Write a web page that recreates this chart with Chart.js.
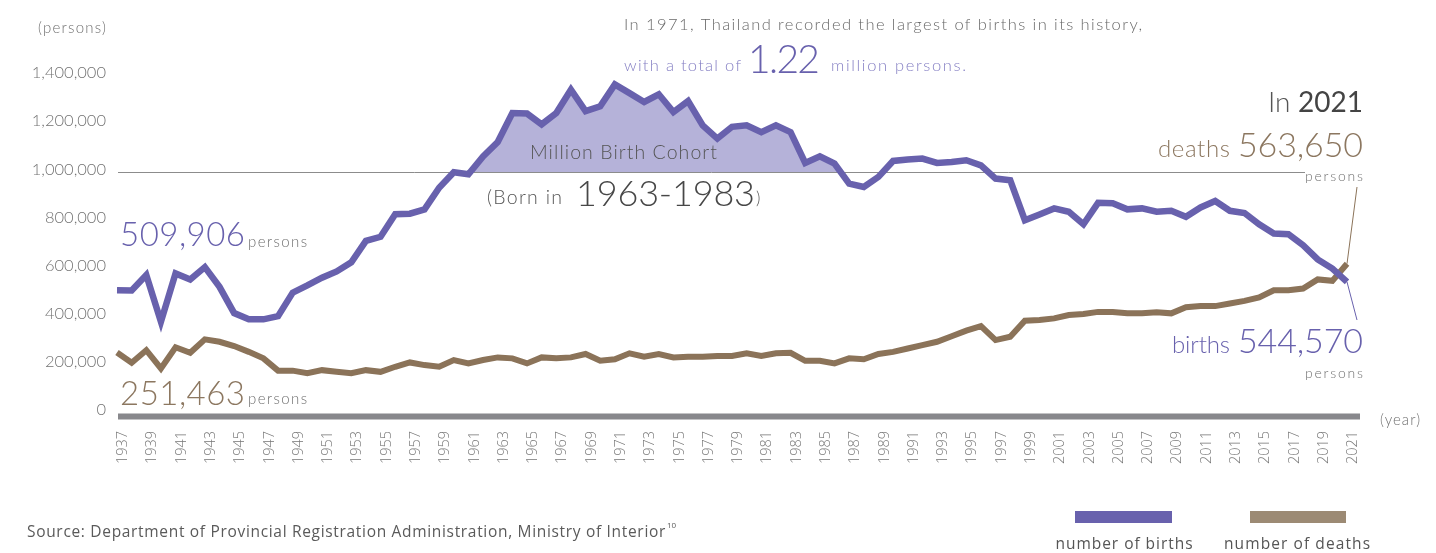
<!DOCTYPE html>
<html><head><meta charset="utf-8">
<style>
html,body{margin:0;padding:0;background:#ffffff;}
#wrap{position:relative;width:1436px;height:553px;}
canvas{display:block;}
</style>
<script src="https://cdn.jsdelivr.net/npm/chart.js@4/dist/chart.umd.min.js"></script>
</head><body>
<div id="wrap"><canvas id="c" width="1436" height="553"></canvas></div>
<script>
// ---- data ----
const years = [1937,1938,1939,1940,1941,1942,1943,1944,1945,1946,1947,1948,1949,1950,1951,1952,1953,1954,1955,1956,
1957,1958,1959,1960,1961,1962,1963,1964,1965,1966,1967,1968,1969,1970,1971,1972,1973,1974,1975,1976,
1977,1978,1979,1980,1981,1982,1983,1984,1985,1986,1987,1988,1989,1990,1991,1992,1993,1994,1995,1996,
1997,1998,1999,2000,2001,2002,2003,2004,2005,2006,2007,2008,2009,2010,2011,2012,2013,2014,2015,2016,
2017,2018,2019,2020,2021];

const births = [509906,509000,573000,379000,580000,555000,606000,524000,415000,389000,389000,402000,500000,530000,562000,588000,626000,715000,732000,826000,
828000,846000,936000,1000000,992000,1066000,1126000,1246000,1244000,1199000,1246000,1343000,1254000,1274000,1365000,1329000,1292000,1324000,1250000,1296000,
1195000,1140000,1189000,1195000,1167000,1195000,1167000,1039000,1066000,1036000,953000,939000,981000,1047000,1053000,1057000,1039000,1043000,1050000,1029000,
974000,967000,801000,825000,850000,836000,784000,873000,871000,846000,850000,836000,840000,815000,854000,881000,840000,831000,784000,746000,
743000,697000,638000,600000,544570];

const deaths = [251463,209000,261000,185000,273000,250000,306000,296000,278000,254000,227000,176000,176000,165000,178000,171000,165000,178000,171000,192000,
210000,199000,192000,220000,206000,220000,231000,227000,206000,231000,227000,231000,245000,217000,223000,248000,234000,245000,231000,234000,
234000,237000,237000,248000,237000,248000,250000,217000,217000,206000,227000,223000,245000,254000,268000,282000,296000,319000,342000,361000,
303000,317000,383000,386000,393000,407000,411000,420000,420000,414000,414000,418000,414000,439000,444000,444000,455000,466000,480000,510000,
510000,517000,555000,549000,620000];

const yTicks = [0,200000,400000,600000,800000,1000000,1200000,1400000];
const MILLION = 1000000;
const COHORT_START = 1959, COHORT_END = 1987;
const cohortFill = births.map((v,i)=> (years[i]>=COHORT_START && years[i]<=COHORT_END) ? v : null);

const PURPLE = '#6861ad', PURPLE_LIGHT = '#8680c4', FILL = '#b5b2d9';
const BROWN = '#8b7359', BROWN_TXT = '#8c7760', BROWN_LEG = '#9c8a74';
const GRAY = '#707070', AXIS = '#88888c';

function t(ctx, s, x, y, font, color, align, base){
  ctx.font = font; ctx.letterSpacing = '0px'; ctx.fillStyle = color; ctx.textAlign = align||'left'; ctx.textBaseline = base||'alphabetic';
  ctx.fillText(s, x, y); return ctx.measureText(s).width;
}
function w(ctx, s, font){ ctx.font = font; ctx.letterSpacing = '0px'; return ctx.measureText(s).width; }
// draw text stretched to a target width with letter spacing
function fit(ctx, s, x, y, font, color, target, align, base){
  ctx.save();
  ctx.font = font; ctx.letterSpacing = '0px';
  const m = ctx.measureText(s).width;
  const n = Math.max(1, s.length - 1);
  const ls = (target - m) / n;
  ctx.letterSpacing = ls.toFixed(2) + 'px';
  ctx.fillStyle = color; ctx.textBaseline = base||'alphabetic'; ctx.textAlign = 'left';
  let x0 = x;
  if (align === 'right') x0 = x - target;
  else if (align === 'center') x0 = x - target/2;
  ctx.fillText(s, x0, y);
  ctx.restore();
  return target;
}

const deco = {
  id:'deco',
  afterDatasetDraw(chart, args){
    if (args.index !== 0) return;
    const {ctx, chartArea:a, scales:{y}} = chart;
    const yy = Math.round(y.getPixelForValue(MILLION)) + 0.5;
    ctx.save();
    ctx.strokeStyle = '#8c8c8c'; ctx.lineWidth = 1;
    ctx.beginPath(); ctx.moveTo(a.left+1, yy); ctx.lineTo(a.right-42, yy); ctx.stroke();
    ctx.restore();
  },
  beforeDatasetsDraw(chart){
    const {ctx, chartArea:a, scales:{y}} = chart;
    const y0 = y.getPixelForValue(0);
    ctx.save(); ctx.fillStyle = AXIS;
    ctx.fillRect(a.left+1, y0+0.5, a.right - a.left + 12, 6);
    ctx.restore();
  },
  afterDraw(chart){
    const {ctx, scales:{x,y}} = chart;
    ctx.save();
    const last = years.length-1;
    const px = x.getPixelForValue(last);
    ctx.lineWidth = 1;
    ctx.strokeStyle = BROWN; ctx.beginPath(); ctx.moveTo(px, y.getPixelForValue(deaths[last])); ctx.lineTo(px+10, 187); ctx.stroke();
    ctx.strokeStyle = PURPLE; ctx.beginPath(); ctx.moveTo(px, y.getPixelForValue(births[last])); ctx.lineTo(px+10, 320); ctx.stroke();

    fit(ctx, '(persons)', 38, 28, '300 15px Lato', GRAY, 68, 'left', 'middle');
    fit(ctx, '(year)', 1380, 420, '300 15px Lato', GRAY, 40, 'left', 'middle');

    // top annotation
    fit(ctx, 'In 1971, Thailand recorded the largest of births in its history,', 624, 25, '300 16.5px Lato', '#6a6a6a', 518, 'left', 'middle');
    fit(ctx, 'with a total of', 624, 71, '300 16.5px Lato', PURPLE_LIGHT, 117);
    fit(ctx, '1.22', 748, 73, '300 39px Lato', PURPLE, 72);
    fit(ctx, 'million persons.', 831, 71, '300 16.5px Lato', PURPLE_LIGHT, 135);

    // cohort
    fit(ctx, 'Million Birth Cohort', 530, 153, '300 19.5px Lato', '#555555', 187, 'left', 'middle');
    fit(ctx, '(Born in', 487, 204, '300 19.5px Lato', '#555555', 75);
    fit(ctx, '1963-1983', 576, 206, '300 36px Lato', '#474747', 179);
    t(ctx, ')', 756, 204, '300 17px Lato', '#555555');

    // left numbers
    fit(ctx, '509,906', 120, 246, '300 33px Lato', PURPLE, 125);
    fit(ctx, 'persons', 248, 247, '300 15px Lato', GRAY, 59);
    fit(ctx, '251,463', 120, 405, '300 33px Lato', BROWN_TXT, 125);
    fit(ctx, 'persons', 248, 404, '300 15px Lato', GRAY, 59);

    // right annotations
    const R = 1363;
    let w2 = w(ctx, '2021', '400 28px Lato');
    t(ctx, '2021', R, 112, '400 28px Lato', '#444444', 'right');
    t(ctx, 'In ', R - w2, 112, '300 28px Lato', '#555555', 'right');
    fit(ctx, '563,650', R, 157, '300 34px Lato', BROWN_TXT, 125, 'right');
    fit(ctx, 'deaths', 1158, 157, '300 24px Lato', BROWN_TXT, 72);
    fit(ctx, 'persons', R, 176, '300 14px Lato', GRAY, 58, 'right', 'middle');
    fit(ctx, '544,570', R, 353, '300 34px Lato', PURPLE, 125, 'right');
    fit(ctx, 'births', 1172, 353, '300 24px Lato', PURPLE, 58);
    fit(ctx, 'persons', R, 373, '300 14px Lato', GRAY, 58, 'right', 'middle');

    // source
    fit(ctx, 'Source: Department of Provincial Registration Administration, Ministry of Interior', 27, 533, '15.5px "Open Sans"', '#5a5a5a', 638, 'left', 'middle');
    t(ctx, '10', 667, 526, '8px "Open Sans"', '#5a5a5a', 'left', 'middle');

    // legend
    ctx.fillStyle = PURPLE; ctx.fillRect(1075, 511, 97, 12);
    ctx.fillStyle = BROWN_LEG; ctx.fillRect(1250, 511, 96, 12);
    fit(ctx, 'number of births', 1124, 545, '15.5px "Open Sans"', '#555555', 137, 'center', 'middle');
    fit(ctx, 'number of deaths', 1297, 545, '15.5px "Open Sans"', '#555555', 146, 'center', 'middle');
    ctx.restore();
  }
};

new Chart(document.getElementById('c'), {
  type: 'line',
  data: {
    labels: years,
    datasets: [
      { label:'cohort', data: cohortFill, borderWidth:0, borderColor:'rgba(0,0,0,0)', pointRadius:0, spanGaps:false,
        fill:{ target:{value:MILLION}, above:FILL, below:'rgba(0,0,0,0)' }, order:2 },
      { label:'number of deaths', data: deaths, borderColor: BROWN, borderWidth:6, pointRadius:0, fill:false, tension:0, order:1 },
      { label:'number of births', data: births, borderColor: PURPLE, borderWidth:6.5, pointRadius:0, fill:false, tension:0, order:0 }
    ]
  },
  options: {
    responsive:false, animation:false,
    layout:{ padding:{ left:0, right:89, top:76, bottom:0 } },
    plugins:{ legend:{display:false}, tooltip:{enabled:false} },
    scales:{
      x:{ offset:false, grid:{display:false, drawTicks:false}, border:{display:false},
          ticks:{ autoSkip:false, maxRotation:90, minRotation:90, padding:18, labelOffset:6, color:'#767676',
                  font:{family:'"Open Sans"', size:14.5, weight:'300'},
                  callback:(v,i)=> (years[i]%2===1 ? String(years[i]) : '') },
          afterFit:(s)=>{ s.height = 140; } },
      y:{ min:0, max:1400000, grid:{display:false, drawTicks:false}, border:{display:false},
          afterBuildTicks:(s)=>{ s.ticks = yTicks.map(v=>({value:v})); },
          ticks:{ padding:11, labelOffset:-3, color:'#737373', font:{family:'Lato', size:16.5, weight:'300'},
                  callback:(v)=> Number(v).toLocaleString('en-US') },
          afterFit:(s)=>{ s.width = 117; } }
    }
  },
  plugins:[deco]
});
</script>
</body></html>
